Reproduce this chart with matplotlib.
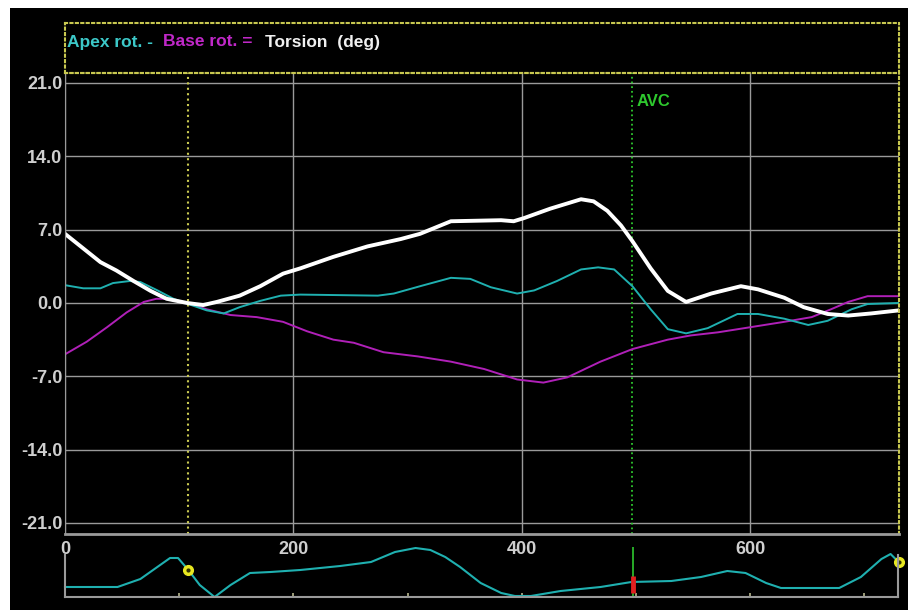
import matplotlib
matplotlib.use("Agg")
import matplotlib.pyplot as plt
from matplotlib.patches import Rectangle

# rotation traces (deg) vs time (ms)
apex_t = [0, 16, 31, 42, 57, 66, 81, 95, 108, 124, 139, 153, 171, 189, 206, 274, 288, 311,
          338, 355, 373, 396, 411, 431, 452, 467, 481, 497, 513, 528, 544, 563, 589, 607,
          630, 651, 668, 689, 703, 731]
apex = [1.7, 1.4, 1.4, 1.9, 2.1, 2.0, 1.2, 0.4, -0.1, -0.7, -1.0, -0.4, 0.2, 0.7, 0.8, 0.7,
        0.9, 1.6, 2.4, 2.3, 1.5, 0.9, 1.2, 2.1, 3.2, 3.4, 3.2, 1.6, -0.6, -2.5, -2.9, -2.4,
        -1.05, -1.05, -1.5, -2.1, -1.7, -0.6, -0.1, 0.0]

base_t = [0, 19, 37, 54, 69, 80, 89, 107, 124, 145, 168, 191, 212, 235, 253, 279, 309, 338,
          367, 396, 419, 440, 469, 497, 528, 548, 572, 601, 630, 654, 671, 686, 703, 731]
base = [-4.9, -3.7, -2.3, -0.9, 0.1, 0.4, 0.4, 0.0, -0.6, -1.15, -1.35, -1.8, -2.7, -3.5,
        -3.8, -4.7, -5.1, -5.6, -6.3, -7.3, -7.6, -7.1, -5.6, -4.4, -3.5, -3.1, -2.8, -2.3,
        -1.8, -1.35, -0.6, 0.1, 0.65, 0.65]

torsion_t = [0, 31, 45, 60, 75, 89, 107, 121, 133, 153, 171, 191, 206, 235, 265, 294, 311,
             338, 382, 393, 402, 425, 452, 463, 475, 487, 497, 513, 528, 544, 566, 592, 607,
             630, 647, 668, 686, 706, 731]
torsion = [6.6, 3.9, 3.1, 2.1, 1.15, 0.4, 0.0, -0.2, 0.1, 0.7, 1.6, 2.8, 3.3, 4.4, 5.4, 6.1,
           6.6, 7.8, 7.9, 7.8, 8.1, 9.0, 9.9, 9.7, 8.8, 7.4, 5.9, 3.3, 1.15, 0.1, 0.9, 1.6,
           1.3, 0.5, -0.4, -1.05, -1.2, -1.0, -0.7]

# ECG strip (arbitrary amplitude)
ecg_t = [0, 46, 66, 92, 99, 108, 118, 131, 145, 162, 180, 206, 241, 268, 289, 307, 320, 333,
         346, 364, 382, 394, 408, 434, 469, 496, 531, 557, 580, 596, 614, 627, 678, 697, 715,
         723, 730]
ecg = [10, 10, 18, 39, 39, 27, 12, 0, 12, 24, 25, 27, 31, 35, 45, 49, 47, 40, 30, 14, 4, 1,
       1, 6, 10, 15, 16, 20, 26, 24, 14, 9, 9, 20, 38, 43, 35]

ecg_marks_t = [108, 730]
ecg_marks = [27, 35]

gate_t = 108
avc_t = 497
avc_marker = (4, 21)

y_ticks = [-21, -14, -7, 0, 7, 14, 21]
x_ticks = [0, 200, 400, 600]

W, H = 908, 610
fig = plt.figure(figsize=(W / 100, H / 100), dpi=100, facecolor="white")
fig.patches.append(Rectangle((10 / W, 0.3 / H), 1, (H - 8) / H, transform=fig.transFigure,
                             facecolor="black", edgecolor="none", zorder=-10))

font = ["Liberation Sans Narrow", "Liberation Sans", "DejaVu Sans"]
grid_c = "#9a9a9a"
text_c = "#cfcfcf"
yellow = "#c8c850"
green = "#2ec82e"
cyan = "#1fb0b0"
magenta = "#b020b8"


def fx(px):
    return px / W


def fy(py):
    return 1 - py / H


left, right = 65, 899

# title box
tax = fig.add_axes([fx(left), fy(73), fx(right - left), (73 - 23) / H])
tax.set_facecolor("none")
tax.set_xticks([])
tax.set_yticks([])
for s in tax.spines.values():
    s.set_color(yellow)
    s.set_linestyle((0, (1, 1.6)))
    s.set_linewidth(1.5)

parts = [("Apex rot. -", "#3cc8c8", 67), ("Base rot. =", "#c028c8", 163),
         ("Torsion  (deg)", "#f0f0f0", 265)]
for txt, col, px in parts:
    fig.text(fx(px), fy(42), txt, color=col, fontsize=12.5, family=font,
             fontweight="bold", va="center", ha="left")

# main panel
ax = fig.add_axes([fx(left), fy(534), fx(right - left), (534 - 73) / H])
ax.set_facecolor("none")
ax.set_xlim(0, 730.5)
ax.set_ylim(-22.05, 21.95)
ax.set_yticks(y_ticks)
ax.set_yticklabels([f"{v:.1f}" for v in y_ticks])
ax.set_xticks(x_ticks)
ax.set_xticklabels([str(v) for v in x_ticks])
ax.tick_params(length=0, colors=text_c, labelsize=13, pad=2)
ax.tick_params(axis="x", pad=5)
for lab in ax.get_xticklabels() + ax.get_yticklabels():
    lab.set_family(font)
    lab.set_fontweight("bold")
ax.grid(True, color=grid_c, linewidth=1.0)
ax.spines["left"].set_color(grid_c)
ax.spines["bottom"].set_color(grid_c)
ax.spines["bottom"].set_linewidth(2)
for side in ("top", "right"):
    ax.spines[side].set_color(yellow)
    ax.spines[side].set_linestyle((0, (1, 1.6)))
    ax.spines[side].set_linewidth(1.5)

ax.axvline(gate_t, color=yellow, linestyle=(0, (1, 1.6)), linewidth=1.5)
ax.axvline(avc_t, color=green, linestyle=(0, (1, 1.6)), linewidth=1.3)
ax.text(avc_t + 4, 19.2, "AVC", color=green, fontsize=12, family=font,
        fontweight="bold", va="center", ha="left")

ax.plot(base_t, base, color=magenta, linewidth=1.4)
ax.plot(apex_t, apex, color=cyan, linewidth=1.4)
ax.plot(torsion_t, torsion, color="white", linewidth=2.8, solid_capstyle="round")

# ECG strip
eax = fig.add_axes([fx(left), fy(597), fx(right - left - 1), (597 - 540) / H])
eax.set_facecolor("none")
eax.set_xlim(0, 729.5)
eax.set_ylim(0, 57)
eax.set_yticks([])
eax.set_xticks(range(100, 701, 100))
eax.tick_params(axis="x", direction="in", length=3, width=1.2, color="#b8b890",
                labelbottom=False)
eax.spines["top"].set_visible(False)
for side in ("left", "right", "bottom"):
    eax.spines[side].set_color(grid_c)
    eax.spines[side].set_linewidth(1.5)
eax.spines["left"].set_bounds(0, 42)
eax.spines["right"].set_bounds(0, 42)

eax.vlines(avc_t, 0, 50, color=green, linewidth=1.2)
eax.plot(ecg_t, ecg, color=cyan, linewidth=1.5, clip_on=False)
eax.vlines(avc_t, *avc_marker, color="#e02020", linewidth=3.5)
eax.plot(ecg_marks_t, ecg_marks, "o", markersize=7, markerfacecolor="#e8e820",
         markeredgecolor="#e8e820", clip_on=False)
eax.plot(ecg_marks_t, ecg_marks, "o", markersize=2, color="#303000", clip_on=False)

fig.savefig("out.png", dpi=100, facecolor=fig.get_facecolor())
